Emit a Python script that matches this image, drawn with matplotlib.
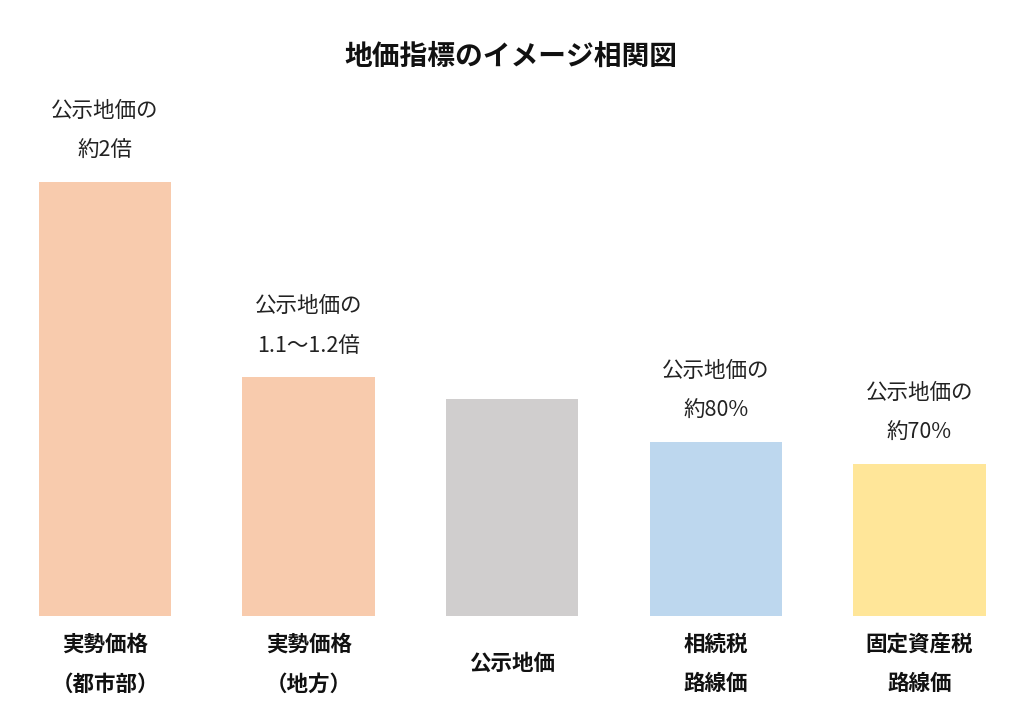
import matplotlib
matplotlib.use("Agg")
import matplotlib.pyplot as plt

plt.rcParams['font.family'] = ['Noto Sans CJK JP', 'DejaVu Sans']

title = "地価指標のイメージ相関図"
categories = ["実勢価格\n（都市部）", "実勢価格\n（地方）", "公示地価", "相続税\n路線価", "固定資産税\n路線価"]
values = [200, 110, 100, 80, 70]
annotations = ["公示地価の\n約2倍", "公示地価の\n1.1～1.2倍", "", "公示地価の\n約80%", "公示地価の\n約70%"]
colors = ["#F8CBAD", "#F8CBAD", "#D0CECE", "#BDD7EE", "#FFE699"]

fig = plt.figure(figsize=(10.24, 7.26), dpi=100)
ax = fig.add_axes([0, 110/726, 1, 434/726])
x = list(range(len(categories)))
ax.bar(x, values, width=0.65, color=colors)
ax.set_xlim(-0.516, 4.514)
ax.set_ylim(0, 200)
ax.axis('off')

line_gap = 40  # px between lines
for xi, v, ann in zip(x, values, annotations):
    if not ann:
        continue
    lines = ann.split("\n")
    n = len(lines)
    for k, ln in enumerate(lines):
        off = 31 + (n - 1 - k) * line_gap
        ax.annotate(ln, xy=(xi, v), xytext=(0, off * 0.72), textcoords='offset points',
                    ha='center', va='center', fontsize=15.5, color='#222222')

for xi, cat in zip(x, categories):
    lines = cat.split("\n")
    n = len(lines)
    if n == 1:
        offs = [47]
    else:
        offs = [28, 68]
    for k, ln in enumerate(lines):
        ax.annotate(ln, xy=(xi, 0), xytext=(0, -offs[k] * 0.72), textcoords='offset points',
                    ha='center', va='center', fontsize=15.5, fontweight='bold', color='#111111')

fig.text(511/1024, 1 - 57/726, title, ha='center', va='center', fontsize=20, fontweight='bold', color='#111111')

fig.savefig("out.png", dpi=100)
